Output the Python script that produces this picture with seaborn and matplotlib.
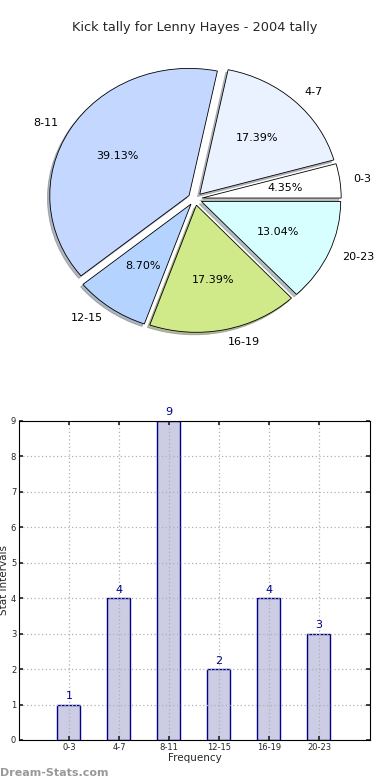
import matplotlib
matplotlib.use("Agg")
import matplotlib.pyplot as plt
import seaborn as sns

# data
categories = ["0-3", "4-7", "8-11", "12-15", "16-19", "20-23"]
counts = [1, 4, 9, 2, 4, 3]
pie_colors = ["#ffffff", "#eaf2ff", "#c4d8ff", "#b4d4ff", "#d0ea8a", "#d8ffff"]

sns.set_theme(style="white")
plt.rcParams["font.family"] = ["DejaVu Sans"]

fig = plt.figure(figsize=(3.9, 7.8), dpi=100)

# pie chart
ax1 = fig.add_axes([0.0, 0.533, 1.0, 0.424])
wedges, texts, autotexts = ax1.pie(
    counts, labels=categories, colors=pie_colors, explode=[0.05] * len(counts),
    autopct="%1.2f%%", pctdistance=0.6, labeldistance=1.1, startangle=0,
    shadow={"ox": -0.012, "oy": -0.014, "shade": 0.5},
    wedgeprops={"edgecolor": "black", "linewidth": 0.6},
    textprops={"fontsize": 8, "color": "black"})
ax1.set_aspect("auto")
ax1.set_xlim(-1.4, 1.4)
ax1.set_ylim(-1.3, 1.3)
ax1.set_axis_off()
ax1.set_title("Kick tally for Lenny Hayes - 2004 tally", fontsize=9.3, pad=2)

# bar chart
ax2 = fig.add_axes([0.0487, 0.0513, 0.9, 0.409])
sns.barplot(x=categories, y=counts, ax=ax2, width=0.46, color="#ccccE4",
            saturation=1, edgecolor="#00008b", linewidth=1)
ax2.set_xlim(-1, 6.02)
ax2.set_ylim(0, 9)
ax2.set_yticks(range(10))
ax2.grid(True, linestyle=(0, (1, 2)), color="#b0b0b0", linewidth=0.9)
ax2.set_axisbelow(False)
ax2.tick_params(axis="both", labelsize=6, direction="in", length=3,
                top=True, right=True, bottom=True, left=True, pad=2)
for s in ax2.spines.values():
    s.set_color("black")
    s.set_linewidth(0.8)
    s.set_zorder(5)
for i, v in enumerate(counts):
    ax2.text(i, v + 0.1, str(v), ha="center", va="bottom", fontsize=8, color="#00008b")
ax2.set_xlabel("Frequency", fontsize=7.5, labelpad=1)
ax2.set_ylabel("Stat intervals", fontsize=7.5, labelpad=1)

fig.text(0.0, 0.005, "Dream-Stats.com", fontsize=8, color="#999999", fontweight="bold")

fig.savefig("out.png", dpi=100)
